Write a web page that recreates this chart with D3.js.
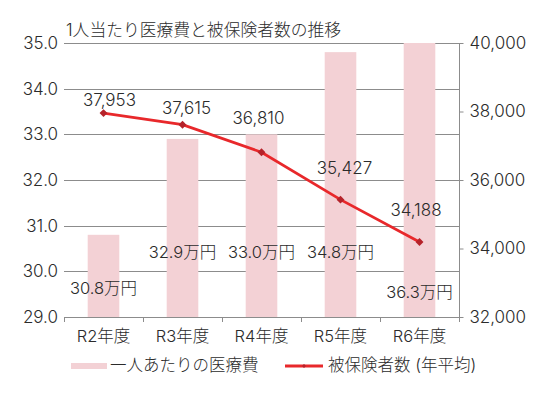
<!DOCTYPE html>
<html>
<head>
<meta charset="utf-8">
<script src="https://cdn.jsdelivr.net/npm/d3@7"></script>
<style>
  body { margin: 0; background: #fff; }
  text { font-family: Inter, "Noto Sans CJK JP", sans-serif; font-weight: 300; fill: #2b2b2b; }
  .gridline { stroke: #8c8c8c; stroke-width: 1; shape-rendering: crispEdges; }
</style>
</head>
<body>
<svg id="chart" width="535" height="395"></svg>
<script>
// ---- data ----
var CATEGORIES = ["R2年度", "R3年度", "R4年度", "R5年度", "R6年度"];
var COST_VALUES = [30.8, 32.9, 33.0, 34.8, 36.3];          // 万円
var COST_LABELS = ["30.8万円", "32.9万円", "33.0万円", "34.8万円", "36.3万円"];
var INSURED_VALUES = [37953, 37615, 36810, 35427, 34188];  // 人
var LEFT_TICKS = [29, 30, 31, 32, 33, 34, 35];
var RIGHT_TICKS = [32000, 34000, 36000, 38000, 40000];
var TITLE = "1人当たり医療費と被保険者数の推移";
var LEGEND_BAR = "一人あたりの医療費";
var LEGEND_LINE = "被保険者数 (年平均)";

// ---- layout ----
var PLOT_LEFT = 64, PLOT_RIGHT = 459, PLOT_TOP = 43, PLOT_BOTTOM = 317;
var BAR_COLOR = "#f3d1d5";
var LINE_COLOR = "#e8282b";
var MARKER_COLOR = "#b5232a";
var GRID_COLOR = "#8c8c8c";
var FONT_SIZE = "16.5px";
var NUM_SIZE = "17px";
// hand placed label spots (bar labels in left-axis units, line labels as px offsets)
var BAR_LABEL_AT = [29.63, 30.42, 30.42, 30.42, 29.55];
var LINE_LABEL_DX = [6, 4, -3, 4, -3.5];
var LINE_LABEL_DY = [-13, -17, -34, -32, -32];

var svg = d3.select("#chart");

var xScale = d3.scaleBand()
    .domain(CATEGORIES)
    .range([PLOT_LEFT, PLOT_RIGHT])
    .paddingInner(0.6)
    .paddingOuter(0.3);
var xBand = d3.scaleBand().domain(CATEGORIES).range([PLOT_LEFT, PLOT_RIGHT]);

var yLeft = d3.scaleLinear().domain([29, 35]).range([PLOT_BOTTOM, PLOT_TOP]);
var yRight = d3.scaleLinear().domain([32000, 40000]).range([PLOT_BOTTOM, PLOT_TOP]);

// Title
svg.append("text")
    .attr("x", 66)
    .attr("y", 30)
    .attr("dy", "0.35em")
    .style("font-size", "16.8px")
    .text(TITLE);

// Gridlines
svg.selectAll(".gridline")
    .data(LEFT_TICKS)
    .enter()
    .append("line")
    .attr("class", "gridline")
    .attr("x1", PLOT_LEFT)
    .attr("x2", PLOT_RIGHT)
    .attr("y1", d => Math.round(yLeft(d)) + 0.5)
    .attr("y2", d => Math.round(yLeft(d)) + 0.5);

// Left tick labels
svg.selectAll(".left-label")
    .data(LEFT_TICKS)
    .enter()
    .append("text")
    .attr("class", "left-label")
    .attr("text-anchor", "end")
    .attr("x", 58)
    .attr("y", d => yLeft(d))
    .attr("dy", "0.35em")
    .style("font-size", NUM_SIZE)
    .text(d => d3.format(".1f")(d));

// Bars (clipped to plot area)
svg.append("clipPath")
    .attr("id", "plot-clip")
    .append("rect")
    .attr("x", PLOT_LEFT)
    .attr("y", PLOT_TOP)
    .attr("width", PLOT_RIGHT - PLOT_LEFT)
    .attr("height", PLOT_BOTTOM - PLOT_TOP);

svg.append("g")
    .attr("clip-path", "url(#plot-clip)")
    .selectAll(".bar")
    .data(COST_VALUES)
    .enter()
    .append("rect")
    .attr("class", "bar")
    .attr("x", (d, i) => xScale(CATEGORIES[i]))
    .attr("width", xScale.bandwidth())
    .attr("y", d => yLeft(d))
    .attr("height", d => PLOT_BOTTOM - yLeft(d))
    .attr("fill", BAR_COLOR);

// Bar labels
svg.selectAll(".bar-label")
    .data(COST_LABELS)
    .enter()
    .append("text")
    .attr("class", "bar-label")
    .attr("text-anchor", "middle")
    .attr("x", (d, i) => xBand(CATEGORIES[i]) + xBand.bandwidth() / 2)
    .attr("y", (d, i) => yLeft(BAR_LABEL_AT[i]))
    .attr("dy", "0.35em")
    .style("font-size", FONT_SIZE)
    .text(d => d);

// X axis line and ticks
svg.append("line")
    .attr("x1", PLOT_LEFT).attr("x2", PLOT_RIGHT)
    .attr("y1", PLOT_BOTTOM + 0.5).attr("y2", PLOT_BOTTOM + 0.5)
    .attr("stroke", GRID_COLOR)
    .style("shape-rendering", "crispEdges");

var boundaries = CATEGORIES.map(c => xBand(c)).concat([PLOT_RIGHT]);
svg.selectAll(".x-tick")
    .data(boundaries)
    .enter()
    .append("line")
    .attr("class", "x-tick")
    .attr("x1", d => Math.round(d) + 0.5).attr("x2", d => Math.round(d) + 0.5)
    .attr("y1", PLOT_BOTTOM).attr("y2", PLOT_BOTTOM + 5)
    .attr("stroke", GRID_COLOR)
    .style("shape-rendering", "crispEdges");

svg.selectAll(".x-label")
    .data(CATEGORIES)
    .enter()
    .append("text")
    .attr("class", "x-label")
    .attr("text-anchor", "middle")
    .attr("x", d => xBand(d) + xBand.bandwidth() / 2)
    .attr("y", 336)
    .attr("dy", "0.35em")
    .style("font-size", FONT_SIZE)
    .text(d => d);

// Right axis
var rightAxis = svg.append("g")
    .attr("transform", "translate(" + (PLOT_RIGHT + 0.5) + ",0)")
    .call(d3.axisRight(yRight)
        .tickValues(RIGHT_TICKS)
        .tickSize(4)
        .tickPadding(6)
        .tickFormat(d3.format(",")));
rightAxis.select(".domain").attr("stroke", GRID_COLOR).attr("d", "M0," + PLOT_TOP + "V" + PLOT_BOTTOM);
rightAxis.selectAll(".tick line").attr("stroke", GRID_COLOR);
rightAxis.selectAll(".tick text")
    .style("font-size", NUM_SIZE)
    .style("font-family", "Inter, \"Noto Sans CJK JP\", sans-serif")
    .attr("fill", "#2b2b2b");

// Line series
var lineGenerator = d3.line()
    .x((d, i) => xBand(CATEGORIES[i]) + xBand.bandwidth() / 2)
    .y(d => yRight(d));

svg.append("path")
    .datum(INSURED_VALUES)
    .attr("d", lineGenerator)
    .attr("fill", "none")
    .attr("stroke", LINE_COLOR)
    .attr("stroke-width", 2.8);

svg.selectAll(".marker")
    .data(INSURED_VALUES)
    .enter()
    .append("path")
    .attr("class", "marker")
    .attr("d", d3.symbol().type(d3.symbolDiamond2).size(40))
    .attr("transform", (d, i) => "translate(" + (xBand(CATEGORIES[i]) + xBand.bandwidth() / 2) + "," + yRight(d) + ")")
    .attr("fill", MARKER_COLOR);

svg.selectAll(".line-label")
    .data(INSURED_VALUES)
    .enter()
    .append("text")
    .attr("class", "line-label")
    .attr("text-anchor", "middle")
    .attr("x", (d, i) => xBand(CATEGORIES[i]) + xBand.bandwidth() / 2 + LINE_LABEL_DX[i])
    .attr("y", (d, i) => yRight(d) + LINE_LABEL_DY[i])
    .attr("dy", "0.35em")
    .style("font-size", NUM_SIZE)
    .text(d => d3.format(",")(d));

// Legend
var legend = svg.append("g").attr("class", "legend");
legend.append("rect")
    .attr("x", 71).attr("y", 363)
    .attr("width", 36).attr("height", 6)
    .attr("fill", BAR_COLOR);
legend.append("text")
    .attr("x", 110).attr("y", 365)
    .attr("dy", "0.35em")
    .style("font-size", FONT_SIZE)
    .text(LEGEND_BAR);
legend.append("line")
    .attr("x1", 285).attr("x2", 323)
    .attr("y1", 366).attr("y2", 366)
    .attr("stroke", LINE_COLOR)
    .attr("stroke-width", 3);
legend.append("path")
    .attr("d", d3.symbol().type(d3.symbolDiamond2).size(10))
    .attr("transform", "translate(304,366)")
    .attr("fill", MARKER_COLOR);
legend.append("text")
    .attr("x", 328).attr("y", 365)
    .attr("dy", "0.35em")
    .style("font-size", FONT_SIZE)
    .text(LEGEND_LINE);
</script>
</body>
</html>
